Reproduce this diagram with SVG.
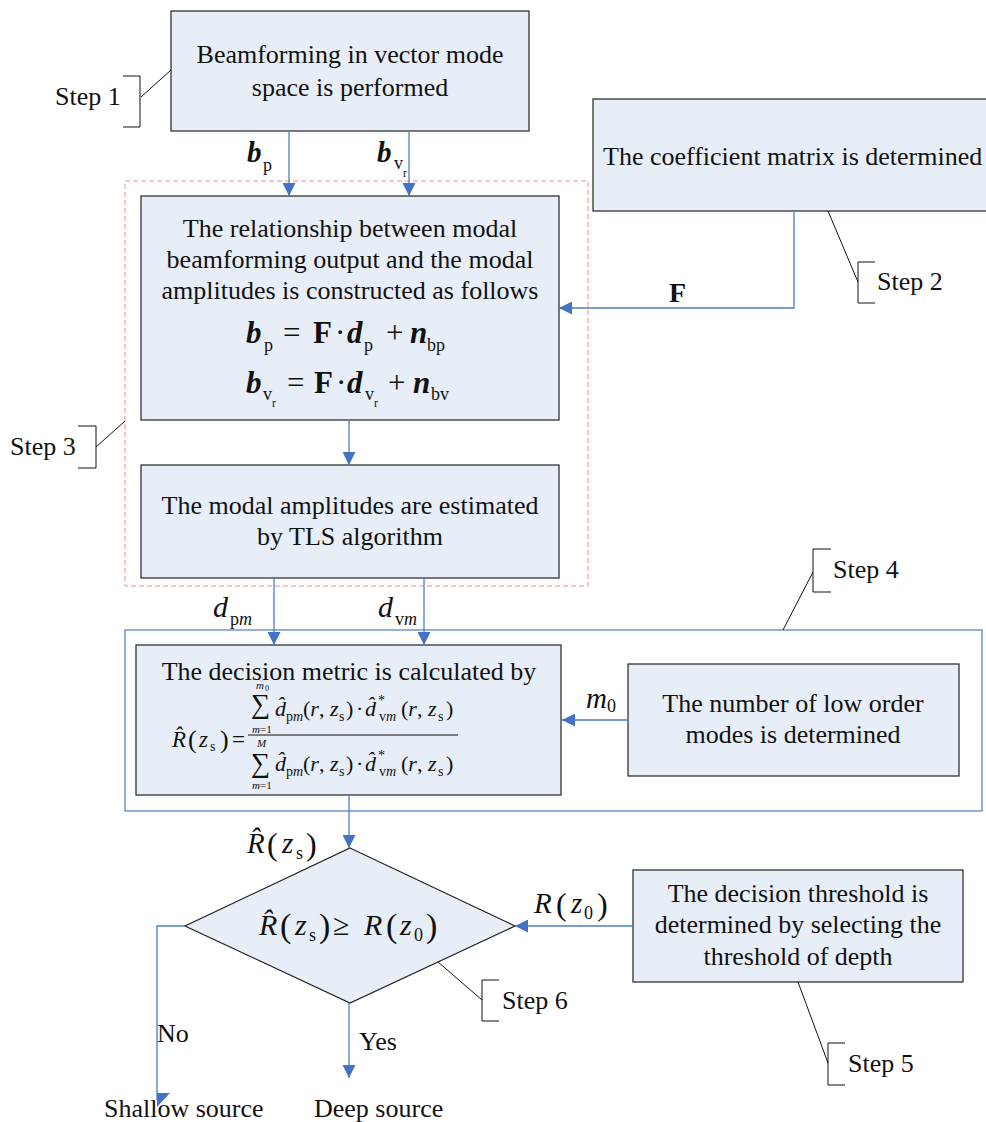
<svg xmlns="http://www.w3.org/2000/svg" width="986" height="1122" viewBox="0 0 986 1122" font-family="'Liberation Serif', 'Times New Roman', serif">
<style>
text{font-family:"Liberation Serif","Times New Roman",serif;fill:#111;}
.t{font-size:26px;text-anchor:middle;}
.s{font-size:26px;}
.box{fill:#e8eef8;stroke:#222;stroke-width:1.2;}
.con{fill:none;stroke:#4a7ebf;stroke-width:1.3;}
.call{fill:none;stroke:#111;stroke-width:1;}
.bi{font-weight:bold;font-style:italic;}
.it{font-style:italic;}
.b{font-weight:bold;}
</style>
<defs>
<marker id="ah" viewBox="0 0 13 13" refX="13" refY="6.5" markerWidth="13" markerHeight="13" orient="auto" markerUnits="userSpaceOnUse"><path d="M0,0 L13,6.5 L0,13 z" fill="#4472c4"/></marker>
</defs>
<rect width="986" height="1122" fill="#fff"/>

<rect id="step3-frame" x="125" y="181" width="463" height="405" fill="none" stroke="#f08c8c" stroke-width="1" stroke-dasharray="5,3"/>
<rect id="step4-frame" x="125" y="630" width="857" height="181" fill="none" stroke="#4a7ebf" stroke-width="1.2"/>

<g id="n1">
<rect class="box" x="171" y="11" width="358" height="120"/>
<text class="t" x="350" y="63">Beamforming in vector mode</text>
<text class="t" x="350" y="96">space is performed</text>
</g>

<g id="n2">
<rect class="box" x="593" y="99" width="400" height="112"/>
<text class="s" x="603" y="165">The coefficient matrix is determined</text>
</g>

<g id="n3">
<rect class="box" x="141" y="196" width="418" height="224"/>
<text class="t" x="350" y="237">The relationship between modal</text>
<text class="t" x="350" y="268">beamforming output and the modal</text>
<text class="t" x="350" y="299">amplitudes is constructed as follows</text>
<text font-size="31"><tspan class="bi" x="246" y="343">b</tspan><tspan x="264" y="351" font-size="18">p</tspan><tspan x="283" y="343">=</tspan><tspan class="b" x="313" y="343">F</tspan><tspan x="335" y="343">·</tspan><tspan class="bi" x="347" y="343">d</tspan><tspan x="364" y="351" font-size="18">p</tspan><tspan x="386" y="343">+</tspan><tspan class="bi" x="410" y="343">n</tspan><tspan x="427" y="351" font-size="18">bp</tspan></text>
<text font-size="31"><tspan class="bi" x="246" y="393">b</tspan><tspan x="263" y="400" font-size="18">v</tspan><tspan x="272" y="407" font-size="12">r</tspan><tspan x="287" y="393">=</tspan><tspan class="b" x="314" y="393">F</tspan><tspan x="336" y="393">·</tspan><tspan class="bi" x="347" y="393">d</tspan><tspan x="365" y="400" font-size="18">v</tspan><tspan x="374" y="407" font-size="12">r</tspan><tspan x="388" y="393">+</tspan><tspan class="bi" x="413" y="393">n</tspan><tspan x="431" y="400" font-size="18">bv</tspan></text>
</g>

<g id="n4">
<rect class="box" x="141" y="465" width="418" height="113"/>
<text class="t" x="350" y="514">The modal amplitudes are estimated</text>
<text class="t" x="350" y="545">by TLS algorithm</text>
</g>

<g id="n5">
<rect class="box" x="136" y="645" width="425" height="150"/>
<text class="t" x="349" y="680">The decision metric is calculated by</text>
<text font-size="23"><tspan class="it" x="172" y="747">R&#x302;</tspan><tspan x="188" y="748" font-size="26">(</tspan><tspan class="it" x="199" y="747">z</tspan><tspan x="210" y="751" font-size="14">s</tspan><tspan x="220" y="748" font-size="26">)</tspan><tspan x="232" y="747">=</tspan></text>
<text x="251" y="713" font-size="27">∑</text>
<text font-size="11"><tspan class="it" x="256" y="689">m</tspan><tspan x="265" y="691" font-size="8">0</tspan></text>
<text x="252" y="733" font-size="11"><tspan class="it">m</tspan>=1</text>
<text font-size="22"><tspan class="it" x="275" y="716">d&#x302;</tspan><tspan x="286" y="721" font-size="14">p<tspan class="it">m</tspan></tspan><tspan x="303" y="716">(<tspan class="it">r</tspan>, <tspan class="it">z</tspan></tspan><tspan x="339" y="721" font-size="14">s</tspan><tspan x="346" y="716">)</tspan><tspan x="356" y="716">·</tspan><tspan class="it" x="365" y="716">d&#x302;</tspan><tspan x="378" y="705" font-size="14">*</tspan><tspan x="379" y="721" font-size="14">v<tspan class="it">m</tspan></tspan><tspan x="401" y="716">(<tspan class="it">r</tspan>, <tspan class="it">z</tspan></tspan><tspan x="438" y="721" font-size="14">s</tspan><tspan x="446" y="716">)</tspan></text>
<line x1="248" y1="735" x2="458" y2="735" stroke="#111" stroke-width="1"/>
<text x="251" y="772" font-size="27">∑</text>
<text class="it" x="257" y="747" font-size="11">M</text>
<text x="252" y="789" font-size="11"><tspan class="it">m</tspan>=1</text>
<text font-size="22"><tspan class="it" x="275" y="771">d&#x302;</tspan><tspan x="286" y="776" font-size="14">p<tspan class="it">m</tspan></tspan><tspan x="303" y="771">(<tspan class="it">r</tspan>, <tspan class="it">z</tspan></tspan><tspan x="339" y="776" font-size="14">s</tspan><tspan x="346" y="771">)</tspan><tspan x="356" y="771">·</tspan><tspan class="it" x="365" y="771">d&#x302;</tspan><tspan x="378" y="760" font-size="14">*</tspan><tspan x="379" y="776" font-size="14">v<tspan class="it">m</tspan></tspan><tspan x="401" y="771">(<tspan class="it">r</tspan>, <tspan class="it">z</tspan></tspan><tspan x="438" y="776" font-size="14">s</tspan><tspan x="446" y="771">)</tspan></text>
</g>

<g id="n6">
<rect class="box" x="628" y="664" width="331" height="112"/>
<text class="t" x="793" y="712">The number of low order</text>
<text class="t" x="793" y="743">modes is determined</text>
</g>

<g id="n7">
<polygon class="box" points="350,848 515,926 350,1003 185,926"/>
<text font-size="30"><tspan class="it" x="259" y="935">R&#x302;</tspan><tspan x="280" y="937" font-size="34">(</tspan><tspan class="it" x="295" y="935">z</tspan><tspan x="309" y="941" font-size="18">s</tspan><tspan x="319" y="937" font-size="34">)</tspan><tspan x="333" y="935">≥</tspan><tspan class="it" x="364" y="935">R</tspan><tspan x="386" y="937" font-size="34">(</tspan><tspan class="it" x="400" y="935">z</tspan><tspan x="414" y="941" font-size="18">0</tspan><tspan x="426" y="937" font-size="34">)</tspan></text>
</g>

<g id="n8">
<rect class="box" x="633" y="870" width="330" height="112"/>
<text class="t" x="798" y="902">The decision threshold is</text>
<text class="t" x="798" y="933">determined by selecting the</text>
<text class="t" x="798" y="965">threshold of depth</text>
</g>

<g id="n9">
<text class="s" x="104" y="1117">Shallow source</text>
</g>
<g id="n10">
<text class="s" x="314" y="1117">Deep source</text>
</g>

<g id="connectors">
<line class="con" x1="289" y1="131" x2="289" y2="196" marker-end="url(#ah)"/>
<line class="con" x1="409" y1="131" x2="409" y2="196" marker-end="url(#ah)"/>
<polyline class="con" points="794,211 794,308 559,308" marker-end="url(#ah)"/>
<line class="con" x1="349" y1="420" x2="349" y2="465" marker-end="url(#ah)"/>
<line class="con" x1="274" y1="578" x2="274" y2="645" marker-end="url(#ah)"/>
<line class="con" x1="424" y1="578" x2="424" y2="645" marker-end="url(#ah)"/>
<line class="con" x1="628" y1="720" x2="562" y2="720" marker-end="url(#ah)"/>
<line class="con" x1="349" y1="795" x2="349" y2="848" marker-end="url(#ah)"/>
<line class="con" x1="633" y1="926" x2="515" y2="926" marker-end="url(#ah)"/>
<polyline class="con" points="185,926 157,926 157,1100"/>
<polygon points="157,1093 170,1093 157,1107" fill="#4472c4"/>
<line class="con" x1="349" y1="1003" x2="349" y2="1078" marker-end="url(#ah)"/>
</g>

<g id="labels">
<text font-size="29"><tspan class="bi" x="247" y="162">b</tspan><tspan x="263" y="171" font-size="18">p</tspan></text>
<text font-size="29"><tspan class="bi" x="377" y="162">b</tspan><tspan x="394" y="169" font-size="18">v</tspan><tspan x="403" y="177" font-size="12">r</tspan></text>
<text class="b" x="669" y="302" font-size="28">F</text>
<text font-size="30"><tspan class="it" x="213" y="617">d</tspan><tspan x="230" y="625" font-size="18">p<tspan class="it">m</tspan></tspan></text>
<text font-size="30"><tspan class="it" x="378" y="617">d</tspan><tspan x="395" y="625" font-size="18">v<tspan class="it">m</tspan></tspan></text>
<text font-size="29"><tspan class="it" x="586" y="708">m</tspan><tspan x="607" y="712" font-size="18">0</tspan></text>
<text font-size="29"><tspan class="it" x="247" y="853">R&#x302;</tspan><tspan x="267" y="855" font-size="32">(</tspan><tspan class="it" x="282" y="853">z</tspan><tspan x="296" y="859" font-size="18">s</tspan><tspan x="306" y="855" font-size="32">)</tspan></text>
<text font-size="29"><tspan class="it" x="534" y="913">R</tspan><tspan x="556" y="915" font-size="32">(</tspan><tspan class="it" x="571" y="913">z</tspan><tspan x="584" y="919" font-size="18">0</tspan><tspan x="597" y="915" font-size="32">)</tspan></text>
<text class="s" x="157" y="1042">No</text>
<text class="s" x="359" y="1050">Yes</text>
</g>

<g id="callouts">
<path class="call" d="M123,76 H140 V127 H123 M141,97 L171,70"/>
<text class="s" x="55" y="105">Step 1</text>
<path class="call" d="M875,262 H858 V303 H875 M858,282 L828,211"/>
<text class="s" x="877" y="290">Step 2</text>
<path class="call" d="M78,426 H96 V468 H78 M96,447 L125,421"/>
<text class="s" x="10" y="455">Step 3</text>
<path class="call" d="M831,549 H813 V592 H831 M813,572 L783,630"/>
<text class="s" x="833" y="578">Step 4</text>
<path class="call" d="M845,1043 H828 V1085 H845 M828,1063 L798,982"/>
<text class="s" x="848" y="1072">Step 5</text>
<path class="call" d="M499,980 H482 V1021 H499 M482,1000 L438,962"/>
<text class="s" x="502" y="1009">Step 6</text>
</g>
</svg>
